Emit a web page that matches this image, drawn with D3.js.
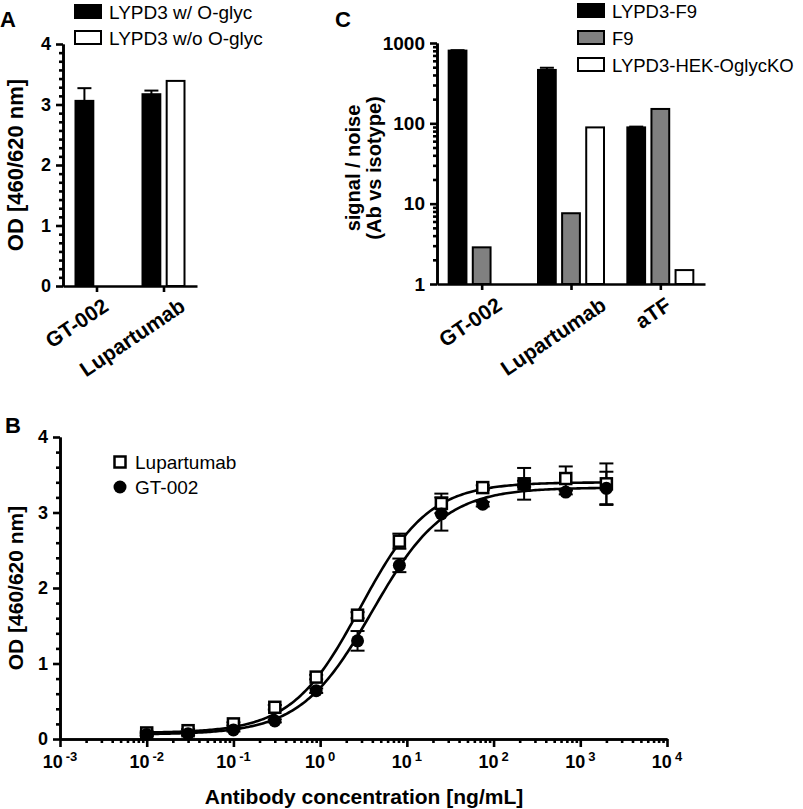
<!DOCTYPE html>
<html>
<head>
<meta charset="utf-8">
<script src="https://cdn.jsdelivr.net/npm/d3@7"></script>
<style>
  body { margin: 0; background: #fff; }
  svg { font-family: "Liberation Sans", Arial, sans-serif; }
</style>
</head>
<body>
<svg id="fig" width="803" height="809"></svg>
<script>
// ---- panel A : OD per antibody, with / without O-glycosylation
var catsA = ['GT-002', 'Lupartumab'];
var seriesA = ['LYPD3 w/ O-glyc', 'LYPD3 w/o O-glyc'];
var odWithGlyc = [3.06, 3.17];
var odWithGlycErr = [0.21, 0.06];
var odWithoutGlyc = [null, 3.39];
var ticksA = [0, 1, 2, 3, 4];

// ---- panel C : signal / noise, log scale
var catsC = ['GT-002', 'Lupartumab', 'aTF'];
var seriesC = ['LYPD3-F9', 'F9', 'LYPD3-HEK-OglycKO'];
var snLypd3F9 = [804, 462, 89];
var snLypd3F9Err = [10, 30, 2];
var snF9 = [2.86, 7.6, 151];
var snOglycKO = [null, 89, 1.49];
var ticksC = [1, 10, 100, 1000];

// ---- panel B : dose response
var conc = [0.01, 0.03, 0.1, 0.3, 0.9, 2.7, 8.2, 25, 75, 225, 680, 2000];
var odLupartumab = [0.08, 0.11, 0.20, 0.42, 0.82, 1.64, 2.62, 3.12, 3.33, 3.38, 3.45, 3.38];
var odLupartumabErr = [0.02, 0.02, 0.02, 0.03, 0.03, 0.04, 0.10, 0.13, 0.03, 0.04, 0.16, 0.27];
var odGT002 = [0.06, 0.07, 0.12, 0.24, 0.64, 1.30, 2.30, 2.98, 3.11, 3.38, 3.27, 3.32];
var odGT002Err = [0.02, 0.02, 0.02, 0.02, 0.03, 0.13, 0.09, 0.22, 0.03, 0.21, 0.03, 0.22];
// 4PL fit: bottom, top, EC50, hill
var fitLupartumab = [0.08, 3.40, 2.9, 1.1];
var fitGT002 = [0.06, 3.33, 4.0, 1.05];
var ticksB = [0, 1, 2, 3, 4];
var decadesB = [-3, -2, -1, 0, 1, 2, 3, 4];

var svg = d3.select('#fig');
var AX_W = 2.6;

function styleAxis(g) {
    g.selectAll('path, line').attr('stroke', '#000').attr('stroke-width', AX_W);
    g.selectAll('text').attr('font-weight', 'bold').attr('fill', '#000');
}

function panelLetter(x, y, txt) {
    svg.append('text')
        .attr('x', x).attr('y', y)
        .attr('font-size', '22px').attr('font-weight', 'bold')
        .text(txt);
}

function yTitle(lines, cx, cy, size) {
    var t = svg.append('text')
        .attr('transform', 'translate(' + cx + ',' + cy + ') rotate(-90)')
        .attr('text-anchor', 'middle')
        .attr('font-size', size).attr('font-weight', 'bold');
    lines.forEach(function(l, i) {
        t.append('tspan').attr('x', 0)
            .attr('dy', i === 0 ? (-(lines.length - 1) * 10.5 + 7) + 'px' : '21px')
            .text(l);
    });
}

// rotated category label: the top of its rotated box sits at y0,
// and the point at `frac` of the box width sits on x
function catLabel(x, y0, txt, frac) {
    var fs = 21, ang = 34,
        c = Math.cos(ang * Math.PI / 180), s = Math.sin(ang * Math.PI / 180);
    var t = svg.append('text')
        .attr('font-size', fs + 'px').attr('font-weight', 'bold')
        .text(txt);
    var w = t.node().getComputedTextLength();
    var asc = 0.72 * fs, desc = 0.21 * fs;
    // rotated extents relative to the baseline start point
    var left = -asc * s,
        right = w * c + desc * s,
        top = -w * s - asc * c;
    var sx = x - (left + frac * (right - left)),
        sy = y0 - top;
    t.attr('transform', 'translate(' + sx + ',' + sy + ') rotate(' + (-ang) + ')');
}

function errBar(g, x, yTop, yBase, cap) {
    g.append('line').attr('x1', x).attr('x2', x).attr('y1', yBase).attr('y2', yTop);
    g.append('line').attr('x1', x - cap).attr('x2', x + cap).attr('y1', yTop).attr('y2', yTop);
}

function legendBox(x, y, fill, label, size) {
    svg.append('rect').attr('x', x).attr('y', y).attr('width', 26).attr('height', 13)
        .attr('fill', fill).attr('stroke', '#000').attr('stroke-width', 2);
    svg.append('text').attr('x', x + 34).attr('y', y + 13.5)
        .attr('font-size', size).text(label);
}

// ================= Panel A =================
(function() {
    var x = d3.scalePoint().domain(catsA).range([63, 197]).padding(0.5),
        sub = d3.scaleBand().domain(seriesA).range([-22, 22]).paddingInner(0.18),
        y = d3.scaleLinear().domain([0, 4]).range([286, 44]);
    var fills = ['#000', '#fff'];
    var vals = [odWithGlyc, odWithoutGlyc];

    var bars = svg.append('g');
    seriesA.forEach(function(s, si) {
        catsA.forEach(function(c, ci) {
            var v = vals[si][ci];
            if (v == null) return;
            bars.append('rect')
                .attr('x', x(c) + sub(s) + 1)
                .attr('width', sub.bandwidth() - 2)
                .attr('y', y(v))
                .attr('height', y(0) - y(v))
                .attr('fill', fills[si]).attr('stroke', '#000').attr('stroke-width', 2);
        });
    });
    var eb = svg.append('g').attr('stroke', '#000').attr('stroke-width', 2);
    catsA.forEach(function(c, ci) {
        var cx = x(c) + sub(seriesA[0]) + sub.bandwidth() / 2;
        errBar(eb, cx, y(odWithGlyc[ci] + odWithGlycErr[ci]), y(odWithGlyc[ci]), 7);
    });

    var minor = d3.range(0, 4.001, 1 / 7).filter(function(v) { return Math.abs(v - Math.round(v)) > 0.01; });
    svg.append('g').attr('transform', 'translate(63,0)')
        .call(d3.axisLeft(y).tickValues(minor).tickSize(4).tickFormat('').tickSizeOuter(0))
        .call(styleAxis);
    svg.append('g').attr('transform', 'translate(63,0)')
        .call(d3.axisLeft(y).tickValues(ticksA).tickSize(7).tickPadding(5).tickFormat(d3.format('d')).tickSizeOuter(0))
        .call(styleAxis)
        .selectAll('text').attr('font-size', '18px');
    svg.append('g').attr('transform', 'translate(0,286)')
        .call(d3.axisBottom(x).tickSize(6).tickFormat('').tickSizeOuter(0))
        .call(styleAxis);
    catsA.forEach(function(c) { catLabel(x(c), 297, c, 0.77); });

    yTitle(['OD [460/620 nm]'], 16, 165, '22px');
    panelLetter(0, 27, 'A');
    legendBox(75, 5, '#000', seriesA[0], '19px');
    legendBox(75, 31, '#fff', seriesA[1], '19px');
}());

// ================= Panel C =================
(function() {
    var x = d3.scalePoint().domain(catsC).range([437, 705]).padding(0.5),
        sub = d3.scaleBand().domain(seriesC).range([-34, 34]).paddingInner(0.18),
        y = d3.scaleLog().domain([1, 1000]).range([284, 43]);
    var fills = ['#000', '#808080', '#fff'];
    var vals = [snLypd3F9, snF9, snOglycKO];

    var bars = svg.append('g');
    seriesC.forEach(function(s, si) {
        catsC.forEach(function(c, ci) {
            var v = vals[si][ci];
            if (v == null) return;
            bars.append('rect')
                .attr('x', x(c) + sub(s) + 1)
                .attr('width', sub.bandwidth() - 2)
                .attr('y', y(v))
                .attr('height', y(1) - y(v))
                .attr('fill', fills[si]).attr('stroke', '#000').attr('stroke-width', 2);
        });
    });
    var eb = svg.append('g').attr('stroke', '#000').attr('stroke-width', 2);
    catsC.forEach(function(c, ci) {
        var cx = x(c) + sub(seriesC[0]) + sub.bandwidth() / 2;
        errBar(eb, cx, y(snLypd3F9[ci] + snLypd3F9Err[ci]), y(snLypd3F9[ci]), 7);
    });

    var minor = [];
    [1, 10, 100].forEach(function(d) {
        d3.range(2, 10).forEach(function(m) { minor.push(m * d); });
    });
    svg.append('g').attr('transform', 'translate(437,0)')
        .call(d3.axisLeft(y).tickValues(minor).tickSize(4).tickFormat('').tickSizeOuter(0))
        .call(styleAxis);
    svg.append('g').attr('transform', 'translate(437,0)')
        .call(d3.axisLeft(y).tickValues(ticksC).tickSize(7).tickPadding(5).tickFormat(d3.format('d')).tickSizeOuter(0))
        .call(styleAxis)
        .selectAll('text').attr('font-size', '19px');
    svg.append('g').attr('transform', 'translate(0,284)')
        .call(d3.axisBottom(x).tickSize(6).tickFormat('').tickSizeOuter(0))
        .call(styleAxis);
    catsC.forEach(function(c) { catLabel(x(c), 296, c, 0.65); });

    yTitle(['signal / noise', '(Ab vs isotype)'], 363, 168, '20px');
    panelLetter(335, 27, 'C');
    legendBox(578, 4, '#000', seriesC[0], '18.5px');
    legendBox(578, 31, '#808080', seriesC[1], '18.5px');
    legendBox(578, 58, '#fff', seriesC[2], '18.5px');
}());

// ================= Panel B =================
(function() {
    var x = d3.scaleLog().domain([1e-3, 1e4]).range([60, 667]),
        y = d3.scaleLinear().domain([0, 4]).range([739, 437]);

    function fourPL(p, c) { return p[0] + (p[1] - p[0]) / (1 + Math.pow(p[2] / c, p[3])); }

    // axes
    var minorY = d3.range(0.2, 4, 0.2).filter(function(v) { return Math.abs(v - Math.round(v)) > 0.01; });
    svg.append('g').attr('transform', 'translate(60,0)')
        .call(d3.axisLeft(y).tickValues(minorY).tickSize(4).tickFormat('').tickSizeOuter(0))
        .call(styleAxis);
    svg.append('g').attr('transform', 'translate(60,0)')
        .call(d3.axisLeft(y).tickValues(ticksB).tickSize(7).tickPadding(5).tickFormat(d3.format('d')).tickSizeOuter(0))
        .call(styleAxis)
        .selectAll('text').attr('font-size', '18px');

    var majorX = decadesB.map(function(k) { return Math.pow(10, k); });
    var minorX = [];
    decadesB.slice(0, -1).forEach(function(k) {
        d3.range(2, 10).forEach(function(m) { minorX.push(m * Math.pow(10, k)); });
    });
    svg.append('g').attr('transform', 'translate(0,739)')
        .call(d3.axisBottom(x).tickValues(minorX).tickSize(4).tickFormat('').tickSizeOuter(0))
        .call(styleAxis);
    svg.append('g').attr('transform', 'translate(0,739)')
        .call(d3.axisBottom(x).tickValues(majorX).tickSize(8).tickFormat('').tickSizeOuter(0))
        .call(styleAxis);
    decadesB.forEach(function(k) {
        var t = svg.append('text')
            .attr('x', x(Math.pow(10, k))).attr('y', 768)
            .attr('text-anchor', 'middle')
            .attr('font-size', '18px').attr('font-weight', 'bold');
        t.append('tspan').text('10');
        t.append('tspan').attr('dx', '3px').attr('dy', '-7px').attr('font-size', '13px').text(k);
    });

    // fitted curves
    var line = d3.line()
        .x(function(d) { return x(d[0]); })
        .y(function(d) { return y(d[1]); });
    var grid = d3.range(0, 241).map(function(i) { return Math.pow(10, -2 + i * (Math.log10(2000) + 2) / 240); });
    [fitLupartumab, fitGT002].forEach(function(p) {
        svg.append('path')
            .attr('d', line(grid.map(function(c) { return [c, fourPL(p, c)]; })))
            .attr('fill', 'none').attr('stroke', '#000').attr('stroke-width', 2.6);
    });

    // error bars
    var eb = svg.append('g').attr('stroke', '#000').attr('stroke-width', 2);
    [[odLupartumab, odLupartumabErr], [odGT002, odGT002Err]].forEach(function(s) {
        conc.forEach(function(c, i) {
            var cx = x(c);
            eb.append('line').attr('x1', cx).attr('x2', cx)
                .attr('y1', y(s[0][i] - s[1][i])).attr('y2', y(s[0][i] + s[1][i]));
            eb.append('line').attr('x1', cx - 7).attr('x2', cx + 7)
                .attr('y1', y(s[0][i] + s[1][i])).attr('y2', y(s[0][i] + s[1][i]));
            eb.append('line').attr('x1', cx - 7).attr('x2', cx + 7)
                .attr('y1', y(s[0][i] - s[1][i])).attr('y2', y(s[0][i] - s[1][i]));
        });
    });

    // markers
    svg.append('g').selectAll('rect')
        .data(conc.map(function(c, i) { return [c, odLupartumab[i]]; }))
        .enter().append('rect')
        .attr('x', function(d) { return x(d[0]) - 5.5; })
        .attr('y', function(d) { return y(d[1]) - 5.5; })
        .attr('width', 11).attr('height', 11)
        .attr('fill', '#fff').attr('stroke', '#000').attr('stroke-width', 2.5);
    svg.append('g').selectAll('circle')
        .data(conc.map(function(c, i) { return [c, odGT002[i]]; }))
        .enter().append('circle')
        .attr('cx', function(d) { return x(d[0]); })
        .attr('cy', function(d) { return y(d[1]); })
        .attr('r', 6.5).attr('fill', '#000');

    // legend
    svg.append('rect').attr('x', 114.5).attr('y', 456.5).attr('width', 11).attr('height', 11)
        .attr('fill', '#fff').attr('stroke', '#000').attr('stroke-width', 2.5);
    svg.append('text').attr('x', 135).attr('y', 469).attr('font-size', '19px').text('Lupartumab');
    svg.append('circle').attr('cx', 120).attr('cy', 487).attr('r', 6.5).attr('fill', '#000');
    svg.append('text').attr('x', 135).attr('y', 494).attr('font-size', '19px').text('GT-002');

    yTitle(['OD [460/620 nm]'], 16, 588, '21px');
    svg.append('text').attr('x', 364).attr('y', 804).attr('text-anchor', 'middle')
        .attr('font-size', '21px').attr('font-weight', 'bold')
        .text('Antibody concentration [ng/mL]');
    panelLetter(5, 433, 'B');
}());
</script>
</body>
</html>
